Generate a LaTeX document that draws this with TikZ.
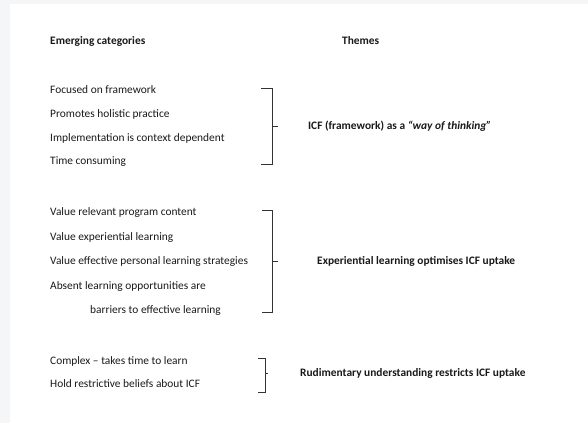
\documentclass[tikz,border=0pt]{standalone}
\usepackage{fontspec}
\setmainfont{Carlito}
\begin{document}
\begin{tikzpicture}[x=1pt,y=-1pt,
  cat/.style={anchor=west,inner sep=0pt,font=\fontsize{11.4}{13}\selectfont,text=black!90},
  head/.style={cat,font=\fontsize{11.4}{13}\selectfont\bfseries},
  theme/.style={cat,font=\fontsize{11.4}{13}\selectfont\bfseries},
  brk/.style={draw=black!80,line width=0.8pt}]
\useasboundingbox (0,0) rectangle (588,423);
\fill[fill={rgb,255:red,245;green,246;blue,248}] (0,0) rectangle (588,4);
\fill[fill={rgb,255:red,245;green,246;blue,248}] (0,4) rectangle (10,423);

\node[head] (h1) at (50,41) {Emerging categories};
\node[head] (h2) at (342,41) {Themes};

% group 1
\node[cat] (a1) at (50,90) {Focused on framework};
\node[cat] (a2) at (50,114) {Promotes holistic practice};
\node[cat] (a3) at (50,138) {Implementation is context dependent};
\node[cat] (a4) at (50,162) {Time consuming};
\coordinate (b1t) at (261,88);
\coordinate (b1b) at (261,164);
\coordinate (b1m) at (278,126);
\draw[brk] (b1t) -- (272,88) -- (272,164) -- (b1b);
\draw[brk] (272,126) -- (b1m);
\node[theme] (t1) at (308,126) {ICF (framework) as a \textit{\textbf{``way of thinking''}}};

% group 2
\node[cat] (c1) at (50,213) {Value relevant program content};
\node[cat] (c2) at (50,238) {Value experiential learning};
\node[cat] (c3) at (50,262) {Value effective personal learning strategies};
\node[cat] (c4) at (50,287) {Absent learning opportunities are};
\node[cat] (c5) at (90,311) {barriers to effective learning};
\coordinate (b2t) at (262,210);
\coordinate (b2b) at (262,312);
\coordinate (b2m) at (278,261);
\draw[brk] (b2t) -- (272,210) -- (272,312) -- (b2b);
\draw[brk] (272,261) -- (b2m);
\node[theme] (t2) at (317,261) {Experiential learning optimises ICF uptake};

% group 3
\node[cat] (d1) at (50,361) {Complex -- takes time to learn};
\node[cat] (d2) at (50,384) {Hold restrictive beliefs about ICF};
\coordinate (b3t) at (258,358);
\coordinate (b3b) at (258,392);
\coordinate (b3m) at (268,373);
\draw[brk] (b3t) -- (265,358) -- (265,392) -- (b3b);
\draw[brk] (265,373) -- (b3m);
\node[theme] (t3) at (300,373) {Rudimentary understanding restricts ICF uptake};
\end{tikzpicture}
\end{document}
